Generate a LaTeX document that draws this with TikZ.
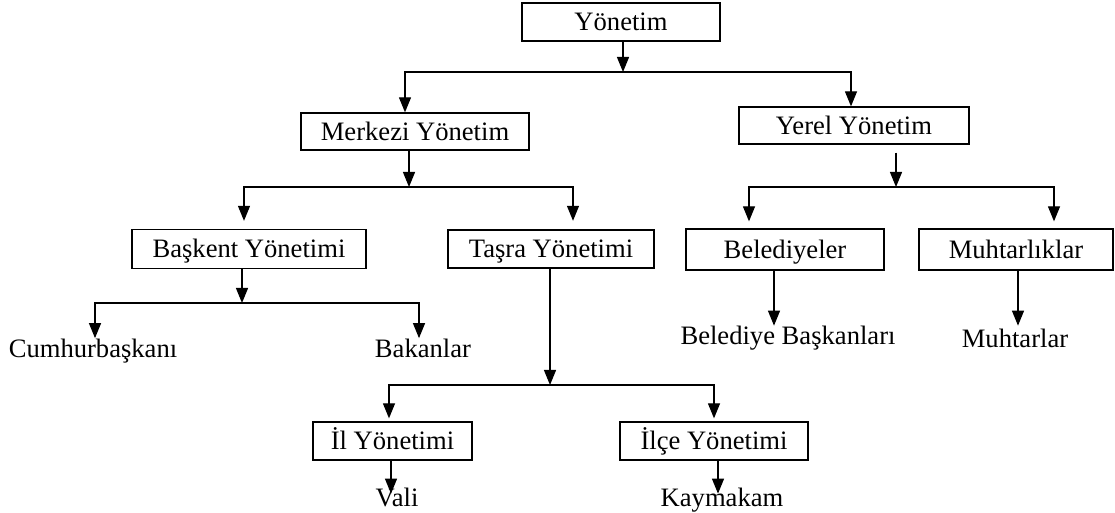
\documentclass[tikz,border=0pt]{standalone}
\usepackage{fontspec}
\setmainfont{Liberation Serif}
\usetikzlibrary{arrows.meta,calc}
\begin{document}
\begin{tikzpicture}[x=0.5pt,y=-0.5pt,
  txt/.style={font=\fontsize{13.3}{15}\selectfont},
  box/.style={txt,draw,line width=0.65pt,inner sep=0pt,text height=8.8pt,text depth=0pt},
  lbl/.style={txt,inner sep=0pt,anchor=base},
  arr/.style={line width=0.6pt,-{Triangle[length=7.5pt,width=6pt]}}]
\useasboundingbox (0,0) rectangle (1115,513);
% boxes
\node[box,minimum width=99pt,minimum height=19pt] (yon) at (621,22) {Yönetim};
\node[box,minimum width=114pt,minimum height=18.5pt] (merk) at (415,131.5) {Merkezi Yönetim};
\node[box,minimum width=115pt,minimum height=18.5pt] (yerel) at (854,125.5) {Yerel Yönetim};
\node[box,minimum width=117pt,minimum height=19.5pt] (bask) at (249,249) {Başkent Yönetimi};
\node[box,line width=1.2pt,minimum width=103pt,minimum height=19pt] (tasra) at (551,249) {Taşra Yönetimi};
\node[box,minimum width=99pt,minimum height=20.5pt] (bel) at (785,249.5) {Belediyeler};
\node[box,minimum width=97pt,minimum height=20.5pt] (muh) at (1016,249.5) {Muhtarlıklar};
\node[box,minimum width=79.5pt,minimum height=19pt] (il) at (392.5,441) {İl Yönetimi};
\node[box,minimum width=94pt,minimum height=19pt] (ilce) at (714,441) {İlçe Yönetimi};
% plain labels
\node[lbl] (cum) at (93,358) {Cumhurbaşkanı};
\node[lbl] (bak) at (423,358) {Bakanlar};
\node[lbl] (belb) at (788,345) {Belediye Başkanları};
\node[lbl] (muhtar) at (1015,348) {Muhtarlar};
\node[lbl] (vali) at (397,507) {Vali};
\node[lbl] (kay) at (722,507) {Kaymakam};
% junctions
\coordinate (j1) at (623,72);
\coordinate (j2) at (409,187);
\coordinate (j3) at (896,187);
\coordinate (j4) at (242,303);
\coordinate (j5) at (550,385);
% connectors
\draw[arr] (yon.south -| j1) -- (j1);
\draw[arr] (j1) -| ($(merk.north)+(-10,0)$);
\draw[arr] (j1) -| ($(yerel.north)+(-3,0)$);
\draw[arr] (merk.south -| j2) -- (j2);
\draw[arr] (j2) -| ($(bask.north)+(-5,-8)$);
\draw[arr] (j2) -| ($(tasra.north)+(22,-8)$);
\draw[arr] ($(yerel.south -| j3)+(0,8)$) -- (j3);
\draw[arr] (j3) -| ($(bel.north)+(-36,-7)$);
\draw[arr] (j3) -| ($(muh.north)+(38,-7)$);
\draw[arr] (bask.south -| j4) -- (j4);
\draw[arr] (j4) -| ($(cum.north)+(2,-1)$);
\draw[arr] (j4) -| ($(bak.north)+(-4,-1)$);
\draw[arr] (tasra.south -| j5) -- (j5);
\draw[arr] (j5) -| ($(il.north)+(-3.5,-3)$);
\draw[arr] (j5) -| ($(ilce.north)+(0,-3)$);
\draw[arr] ($(il.south)+(-1.5,0)$) -- ($(il.south)+(-1.5,33)$);
\draw[arr] ($(ilce.south)+(4,0)$) -- ($(ilce.south)+(4,33)$);
\draw[arr] ($(bel.south)+(-11,0)$) -- ($(bel.south)+(-11,55)$);
\draw[arr] ($(muh.south)+(2,0)$) -- ($(muh.south)+(2,55)$);
\end{tikzpicture}
\end{document}
